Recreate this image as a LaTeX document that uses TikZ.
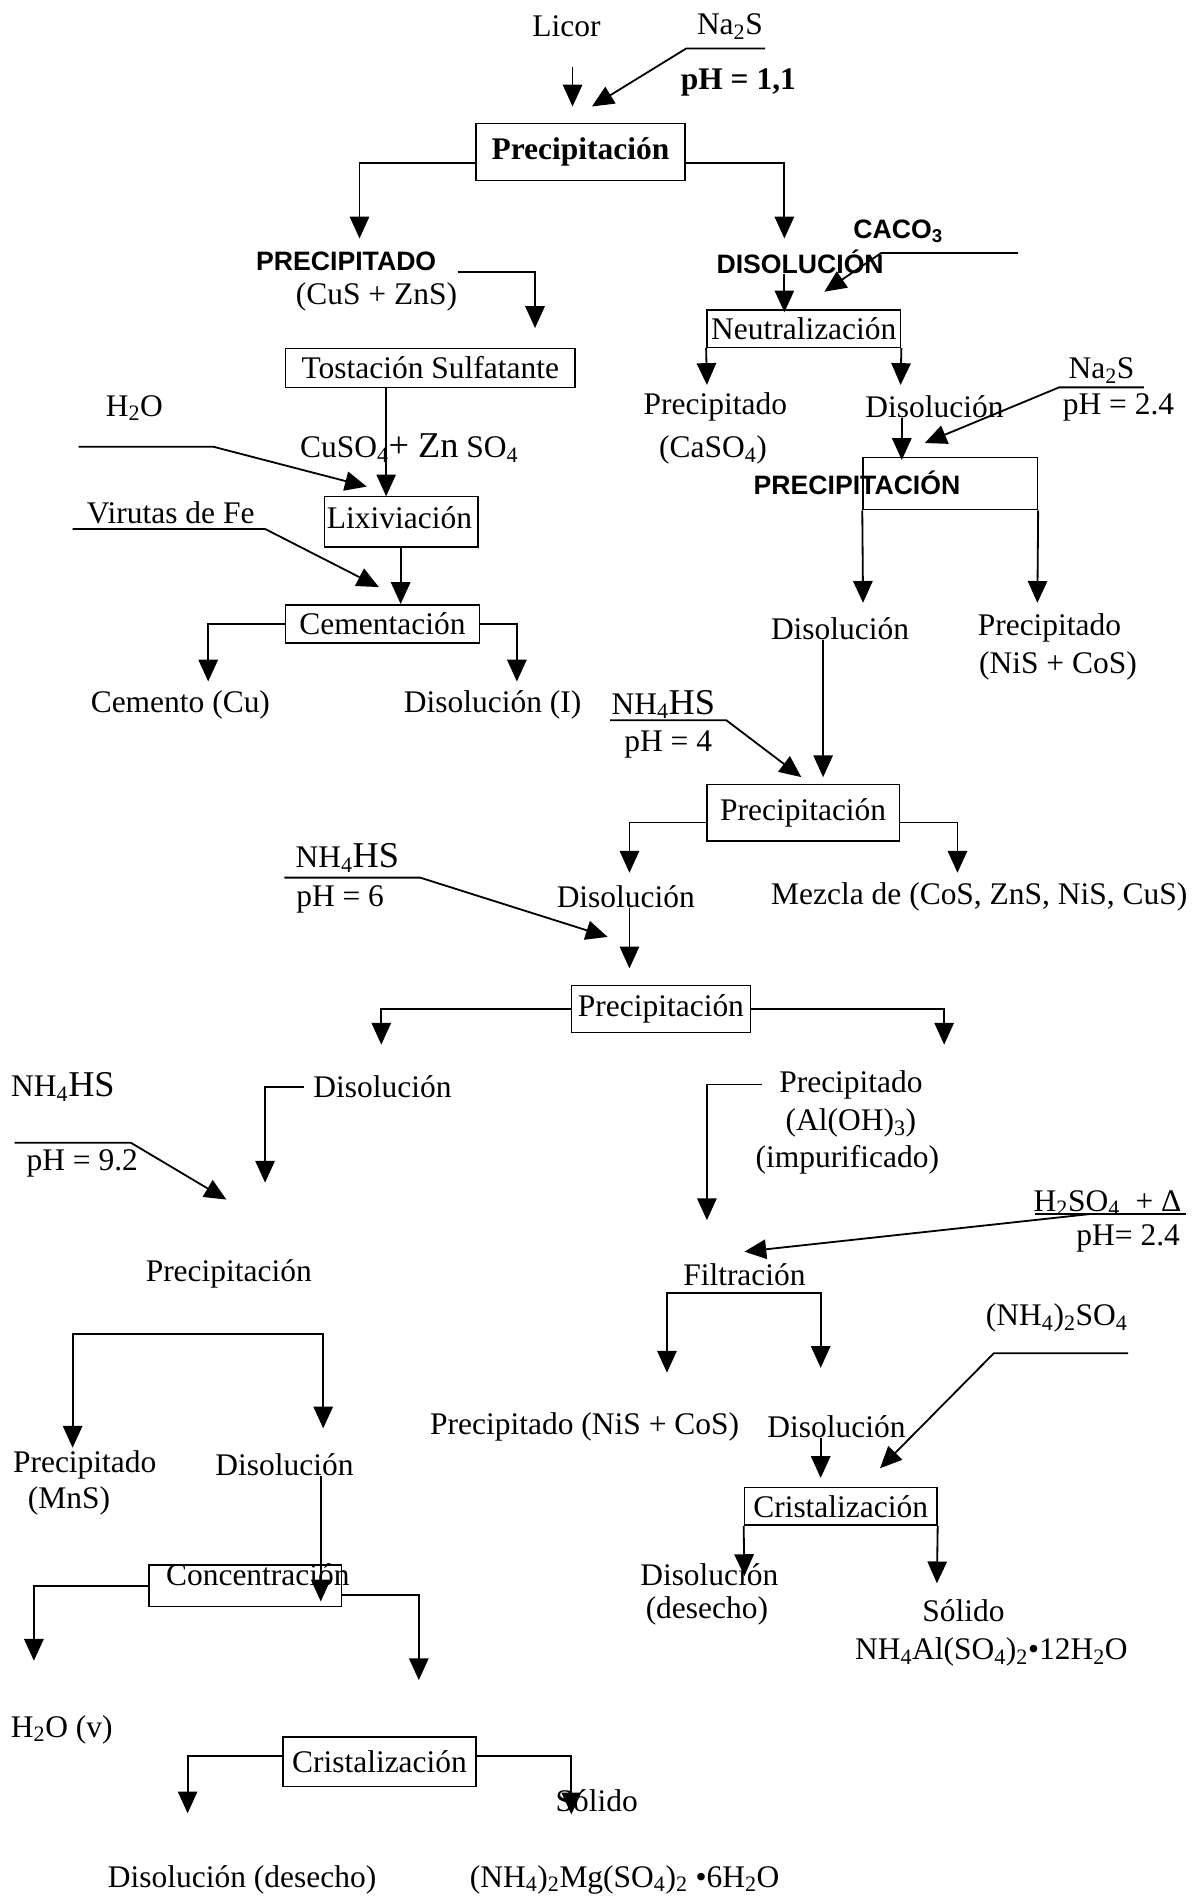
\documentclass[tikz,border=0pt]{standalone}
\usepackage{fontspec}
\setmainfont{Liberation Serif}
\setsansfont{Liberation Sans}
\usetikzlibrary{arrows.meta}
\tikzstyle{box}=[draw, rectangle, line width=1.3pt, inner sep=0pt]
\tikzstyle{caps}=[font=\sffamily\bfseries\fontsize{22}{26}\selectfont]
\tikzstyle{heavy}=[font=\bfseries\fontsize{26}{30}\selectfont]
\tikzstyle{arrow}=[draw=black, line width=1.5pt, -{Triangle[length=18pt,width=16pt]}]
\tikzstyle{bare}=[draw=black, line width=1.5pt]
\newcommand{\chsub}[1]{\textsubscript{#1}}
\newcommand{\nhhs}{NH\chsub{4}{\fontsize{30}{34}\selectfont HS}}

\begin{document}
\begin{tikzpicture}[x=1pt, y=-1pt, every node/.style={inner sep=0pt, font=\fontsize{26}{30}\selectfont}]
		   \useasboundingbox (0,0) rectangle (987,1568);
		   \begin{scope}
			   \node (licor) at (468, 22) {Licor};
			   \node (na2s) at (603, 22) {Na\chsub{2}S};
			   \node (ph1) at (610, 68) [heavy] {pH = 1,1};
			   \node (prec1) at (479.5, 125.5) [box, heavy, minimum width=173, minimum height=47] {Precipitación};

			   \node (precip) at (286, 216) [caps] {PRECIPITADO};
			   \node (cuszns) at (311, 245) {(CuS + ZnS)};
			   \node (caco) at (742, 191) [caps] {CACO\chsub{3}};
			   \node (disol1) at (661, 216) [caps] {DISOLUCIÓN};
			   \node (tost) at (355.5, 304) [box, minimum width=239, minimum height=32] {Tostación Sulfatante};
			   \node (neu) at (664, 271.5) [box, minimum width=160, minimum height=31] {Neutralización};

			   \node (h2o) at (111, 337) {H\chsub{2}O};
			   \node (cuso) at (338, 370) {CuSO\chsub{4}{\fontsize{30}{34}\selectfont+ Zn} SO\chsub{4}};
			   \node (precCa) at (591, 336) {Precipitado};
			   \node (caso) at (589, 372) {(CaSO\chsub{4})};
			   \node (dis2) at (772, 336) {Disolución};
			   \node (na2s2) at (910, 306) {Na\chsub{2}S};
			   \node (ph2) at (924, 337) {pH = 2.4};

			   \node (lix) at (331.5, 431) [box, minimum width=127, minimum height=42] {};
			   \node (lixt) at (330, 428) {Lixiviación};
			   \node (viru) at (141, 424) {Virutas de Fe};
			   \node (p2) at (785, 399.5) [box, minimum width=144, minimum height=43] {};
			   \node (p2t) at (708, 399) [caps] {PRECIPITACIÓN};
			   \node (cem) at (316, 515.5) [box, minimum width=160, minimum height=31] {Cementación};

			   \node (cemcu) at (149, 582) {Cemento (Cu)};
			   \node (disI) at (407, 582) {Disolución (I)};
			   \node (dis3) at (694, 519) {Disolución};
			   \node (precNi) at (867, 519) {Precipitado};
			   \node (nicos) at (874, 550) {(NiS + CoS)};

			   \node (nh1) at (548, 582) {\nhhs};
			   \node (ph4) at (552, 615) {pH = 4};
			   \node (p3) at (663.5, 671.5) [box, minimum width=159, minimum height=47] {Precipitación};
			   \node (dis4) at (517, 741) {Disolución};
			   \node (mezcla) at (809, 741) {Mezcla de (CoS, ZnS, NiS, CuS)};
			   \node (nh2) at (287, 709) {\nhhs};
			   \node (ph6) at (281, 743) {pH = 6};
			   \node (p4) at (546, 833.5) [box, minimum width=148, minimum height=39] {Precipitación};

			   \node (nh3) at (52, 898) {\nhhs};
			   \node (ph9) at (68, 961) {pH = 9.2};
			   \node (dis5) at (316, 898) {Disolución};
			   \node (precAl) at (703, 896) {Precipitado};
			   \node (aloh) at (703, 928) {(Al(OH)\chsub{3})};
			   \node (impur) at (700, 958) {(impurificado)};
			   \node (prec5) at (189, 1052) {Precipitación};
			   \node (h2so4) at (915, 994) {H\chsub{2}SO\chsub{4}\ \ + Δ};
			   \node (ph24) at (932, 1023) {pH= 2.4};
			   \node (filt) at (615, 1053) {Filtración};
			   \node (nh4so4) at (873, 1089) {(NH\chsub{4})\chsub{2}SO\chsub{4}};

			   \node (precMn) at (70, 1210) {Precipitado};
			   \node (mns) at (57, 1240) {(MnS)};
			   \node (dis6) at (235, 1210) {Disolución};
			   \node (precNi2) at (483, 1179) {Precipitado (NiS + CoS)};
			   \node (dis7) at (691, 1179) {Disolución};
			   \node (cris1) at (694.5, 1244.5) [box, minimum width=159, minimum height=31] {Cristalización};
			   \node (disdes1) at (586, 1301) {Disolución};
			   \node (des1) at (584, 1331) {(desecho)};
			   \node (sol1) at (796, 1331) {Sólido};
			   \node (alum) at (819, 1365) {NH\chsub{4}Al(SO\chsub{4})\chsub{2}•12H\chsub{2}O};

			   \node (conc) at (202.5, 1310) [box, minimum width=159, minimum height=34] {};
			   \node (conct) at (213, 1301) {Concentración};
			   \node (h2ov) at (51, 1429) {H\chsub{2}O (v)};
			   \node (cris2) at (313.5, 1455.5) [box, minimum width=159, minimum height=41] {Cristalización};
			   \node (sol2) at (493, 1488) {Sólido};
			   \node (disdes2) at (200, 1553) {Disolución (desecho)};
			   \node (mgs) at (516, 1553) {(NH\chsub{4})\chsub{2}Mg(SO\chsub{4})\chsub{2} •6H\chsub{2}O};

			   \coordinate (licA) at (473, 55);
			   \coordinate (licB) at (473, 88);
			   \coordinate (naA) at (632, 40);
			   \coordinate (naB) at (567, 40);
			   \coordinate (naC) at (489, 88);
			   \coordinate (tA) at (297, 197);
			   \coordinate (tB) at (648, 197);
			   \coordinate (pzA) at (378, 225);
			   \coordinate (pzB) at (442, 271);
			   \coordinate (lixin) at (319, 410);
			   \coordinate (hA) at (65, 369);
			   \coordinate (hB) at (176, 369);
			   \coordinate (hC) at (303, 402);
			   \coordinate (vA) at (60, 437);
			   \coordinate (vB) at (219, 437);
			   \coordinate (vC) at (313, 485);
			   \coordinate (cemin) at (331, 499);
			   \coordinate (cuT) at (172, 563);
			   \coordinate (dIT) at (427, 563);
			   \coordinate (caA) at (841, 209);
			   \coordinate (caB) at (728, 209);
			   \coordinate (caC) at (681, 241);
			   \coordinate (neuin) at (648, 258);
			   \coordinate (caT) at (584, 318);
			   \coordinate (disT) at (744, 318);
			   \coordinate (nbA) at (945, 320);
			   \coordinate (nbB) at (875, 320);
			   \coordinate (nbC) at (764, 366);
			   \coordinate (p2in) at (745, 380);
			   \coordinate (d3T) at (713, 498);
			   \coordinate (niT) at (857, 498);
			   \coordinate (p3in) at (680, 642);
			   \coordinate (nhA) at (504, 595);
			   \coordinate (nhB) at (600, 595);
			   \coordinate (nhC) at (662, 642);
			   \coordinate (d4T) at (520, 721);
			   \coordinate (mzT) at (791, 721);
			   \coordinate (p4in) at (520, 800);
			   \coordinate (nkA) at (235, 725);
			   \coordinate (nkB) at (347, 725);
			   \coordinate (nkC) at (502, 774);
			   \coordinate (p4L) at (315, 863);
			   \coordinate (p4R) at (780, 863);
			   \coordinate (nmA) at (12, 944);
			   \coordinate (nmB) at (108, 944);
			   \coordinate (nmC) at (187, 991);
			   \coordinate (d5T) at (219, 977);
			   \coordinate (alT) at (584, 1008);
			   \coordinate (hsA) at (855, 1003);
			   \coordinate (hsB) at (980, 1003);
			   \coordinate (hsC) at (900, 1003);
			   \coordinate (filtin) at (615, 1034);
			   \coordinate (br1) at (163, 1102);
			   \coordinate (mnT) at (60, 1196);
			   \coordinate (d6T) at (267, 1180);
			   \coordinate (br2) at (614.5, 1068);
			   \coordinate (niT2) at (551, 1134);
			   \coordinate (d7T) at (678, 1130);
			   \coordinate (amA) at (932, 1118);
			   \coordinate (amB) at (821, 1118);
			   \coordinate (amC) at (727, 1213);
			   \coordinate (c1in) at (678, 1221);
			   \coordinate (dd1T) at (615, 1302);
			   \coordinate (solT) at (774, 1308);
			   \coordinate (concin) at (265, 1323);
			   \coordinate (h2T) at (28, 1372);
			   \coordinate (crT) at (346, 1388);
			   \coordinate (ddT) at (155, 1498);
			   \coordinate (sT) at (472, 1499);
		   \end{scope}
		   \begin{scope}
			   \path [arrow] (licA) -- (licB);
			   \path [arrow] (naA) -- (naB) -- (naC);
			   \path [arrow] ([yshift=-9pt]prec1.west) -| (tA);
			   \path [arrow] ([yshift=-9pt]prec1.east) -| (tB);

			   \path [arrow] (pzA) -| (pzB);
			   \path [arrow] (tost.south -| lixin) -- (lixin);
			   \path [arrow] (hA) -- (hB) -- (hC);
			   \path [arrow] (vA) -- (vB) -- (vC);
			   \path [arrow] (lix.south -| cemin) -- (cemin);
			   \path [arrow] (cem.west) -| (cuT);
			   \path [arrow] (cem.east) -| (dIT);

			   \path [arrow] (caA) -- (caB) -- (caC);
			   \path [arrow] (disol1.south -| neuin) -- (neuin);
			   \path [arrow] (neu.south west) -- (caT);
			   \path [arrow] (neu.south east) -- (disT);
			   \path [arrow] (nbA) -- (nbB) -- (nbC);
			   \path [arrow] (dis2.south -| p2in) -- (p2in);
			   \path [arrow] (p2.south west) -- (d3T);
			   \path [arrow] (p2.south east) -- (niT);

			   \path [arrow] (dis3.south -| p3in) -- (p3in);
			   \path [arrow] (nhA) -- (nhB) -- (nhC);
			   \path [arrow] ([yshift=-8pt]p3.west) -| (d4T);
			   \path [arrow] ([yshift=-8pt]p3.east) -| (mzT);
			   \path [arrow] (dis4.south -| p4in) -- (p4in);
			   \path [arrow] (nkA) -- (nkB) -- (nkC);
			   \path [arrow] (p4.west) -| (p4L);
			   \path [arrow] (p4.east) -| (p4R);

			   \path [arrow] (nmA) -- (nmB) -- (nmC);
			   \path [arrow] ([xshift=-8pt]dis5.west) -| (d5T);
			   \path [arrow] ([xshift=-14pt]precAl.west) -| (alT);
			   \path [bare] (hsA) -- (hsB);
			   \path [arrow] (hsC) -- (filtin);
			   \path [arrow] (br1) -| (mnT);
			   \path [arrow] (br1) -| (d6T);
			   \path [arrow] (br2) -| (niT2);
			   \path [arrow] (br2) -| (d7T);
			   \path [arrow] (amA) -- (amB) -- (amC);

			   \path [arrow] (dis7.south -| c1in) -- (c1in);
			   \path [arrow] (cris1.south west) -- (dd1T);
			   \path [arrow] (cris1.south east) -- (solT);
			   \path [arrow] (dis6.south -| concin) -- (concin);
			   \path [arrow] (conc.west) -| (h2T);
			   \path [arrow] ([yshift=-8pt]conc.east) -| (crT);
			   \path [arrow] ([yshift=5pt]cris2.west) -| (ddT);
			   \path [arrow] ([yshift=5pt]cris2.east) -| (sT);
		   \end{scope}
	   \end{tikzpicture}
\end{document}
